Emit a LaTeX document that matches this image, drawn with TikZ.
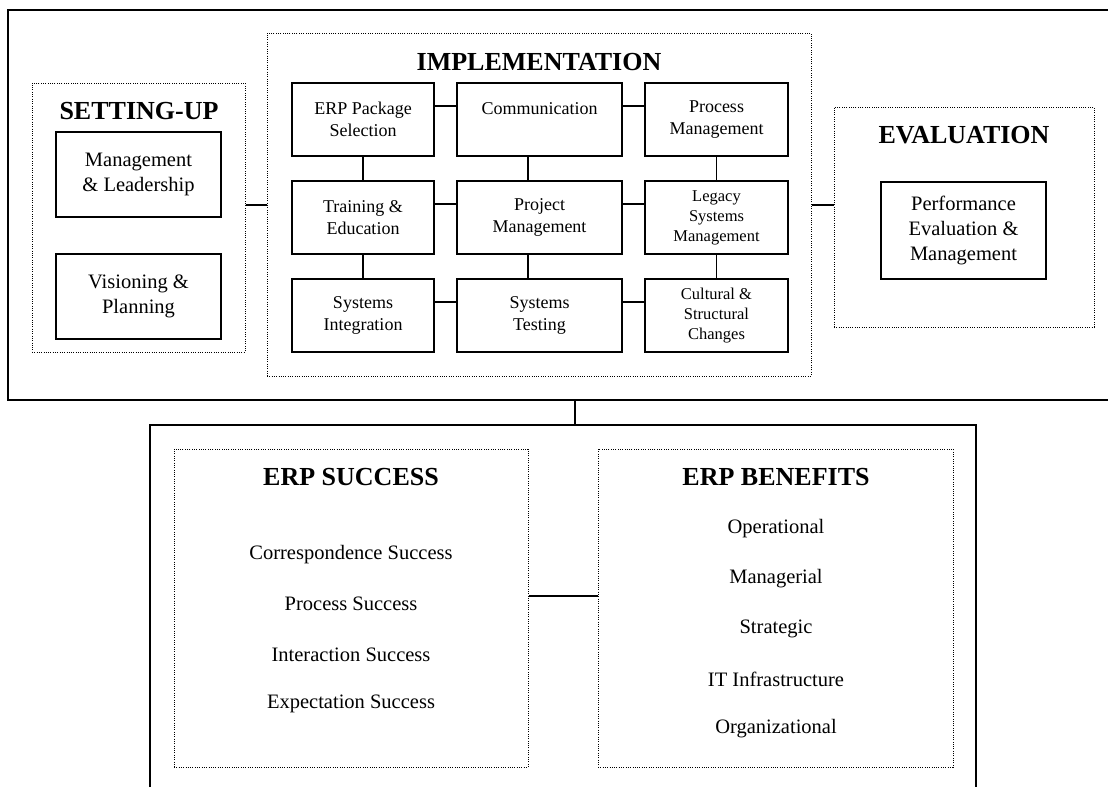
\documentclass[tikz,border=0pt]{standalone}
\usepackage{fontspec}
\setmainfont{Liberation Serif}
\usepackage{tikz}
\usetikzlibrary{positioning}
\tikzstyle{cell} = [draw, line width=1.8pt, align=center, minimum height=73pt, inner sep=1pt, font=\fontsize{18}{21.7}\selectfont]
\tikzstyle{cellsmall} = [cell, font=\fontsize{16.5}{20}\selectfont]
\tikzstyle{bigcell} = [draw, line width=1.8pt, align=center, minimum width=165pt, inner sep=1pt, font=\fontsize{20.5}{25}\selectfont]
\tikzstyle{frame} = [draw, line width=1pt, dash pattern=on 1pt off 1.3pt, inner sep=0pt]
\tikzstyle{heading} = [font=\fontsize{26}{30}\selectfont\bfseries]
\tikzstyle{item} = [font=\fontsize{20.5}{25}\selectfont]
\tikzstyle{link} = [line width=1.8pt]

\begin{document}
\begin{tikzpicture}[x=1pt, y=-1pt]
\useasboundingbox (0,0) rectangle (1108,787);

% outer boxes
\draw[link] (1108,10) -| (8,400) -- (1108,400);
\draw[link] (150,787) |- (976,425) -- (976,787);
\coordinate (topout) at (575,400);
\coordinate (botout) at (575,425);

% setting-up
\node[frame, minimum width=213pt, minimum height=269pt] (setup) at (138.5,217.5) {};
\node[heading] (setuptitle) at (139,111) {SETTING-UP};
\node[bigcell, minimum height=85pt] (lead) at (138.5,174.5) {Management\\ \& Leadership};
\node[bigcell, minimum height=85pt] (vision) at (138.5,296.5) {Visioning \&\\ Planning};

% implementation
\node[frame, minimum width=544pt, minimum height=343pt] (impl) at (539,204.5) {};
\node[heading] (impltitle) at (539,62) {IMPLEMENTATION};
\node[cell, minimum width=142pt] (pack) at (363,119.5) {ERP Package\\ Selection};
\node[cell, minimum width=165pt] (comm) at (539.5,119.5) {Communication\\ \mbox{}};
\node[cell, minimum width=143pt] (proc) at (716.5,119.5) {Process\\ Management};
\node[cell, minimum width=142pt] (train) at (363,217.5) {Training \&\\ Education};
\node[cell, minimum width=165pt] (proj) at (539.5,217.5) {Project\\ Management};
\node[cellsmall, minimum width=143pt] (legacy) at (716.5,217.5) {Legacy\\ Systems\\ Management};
\node[cell, minimum width=142pt] (integ) at (363,315.5) {Systems\\ Integration};
\node[cell, minimum width=165pt] (test) at (539.5,315.5) {Systems\\ Testing};
\node[cellsmall, minimum width=143pt] (cult) at (716.5,315.5) {Cultural \&\\ Structural\\ Changes};

% evaluation
\node[frame, minimum width=260pt, minimum height=220pt] (eval) at (964,217) {};
\node[heading] (evaltitle) at (964,135) {EVALUATION};
\node[bigcell, minimum height=97pt] (perf) at (963.5,230.5) {Performance\\ Evaluation \&\\ Management};

% success and benefits
\node[frame, minimum width=354pt, minimum height=318pt] (succ) at (351,608) {};
\node[heading] (succtitle) at (351,477) {ERP SUCCESS};
\node[item] (corr) at (351,555) {Correspondence Success};
\node[item] (procs) at (351,604) {Process Success};
\node[item] (inter) at (351,655) {Interaction Success};
\node[item] (expec) at (351,704) {Expectation Success};

\node[frame, minimum width=355pt, minimum height=318pt] (ben) at (775.5,608) {};
\node[heading] (bentitle) at (776,477) {ERP BENEFITS};
\node[item] (oper) at (776,529) {Operational};
\node[item] (mana) at (776,579) {Managerial};
\node[item] (strat) at (776,629) {Strategic};
\node[item] (infra) at (776,679) {IT Infrastructure};
\node[item] (orga) at (776,729) {Organizational};

% connectors
\draw[link] ([yshift=-24pt]pack.north east) -- ([yshift=-24pt]comm.north west);
\draw[link] ([yshift=-24pt]comm.north east) -- ([yshift=-24pt]proc.north west);
\draw[link] ([yshift=-24pt]train.north east) -- ([yshift=-24pt]proj.north west);
\draw[link] ([yshift=-24pt]proj.north east) -- ([yshift=-24pt]legacy.north west);
\draw[link] ([yshift=-24pt]integ.north east) -- ([yshift=-24pt]test.north west);
\draw[link] ([yshift=-24pt]test.north east) -- ([yshift=-24pt]cult.north west);
\draw[link] (pack) -- (train);
\draw[link] (train) -- (integ);
\draw[link] ([xshift=-11.5pt]comm.south) -- ([xshift=-11.5pt]proj.north);
\draw[link] ([xshift=-11.5pt]proj.south) -- ([xshift=-11.5pt]test.north);
\draw[link] (proc) -- (legacy);
\draw[link] (legacy) -- (cult);
\draw[link] ([yshift=12.5pt]setup.east) -- ([yshift=12.5pt]setup.east -| impl.west);
\draw[link] ([yshift=12pt]eval.west) -- ([yshift=12pt]eval.west -| impl.east);
\draw[link] (topout) -- (botout);
\draw[link] ([yshift=12pt]succ.east) -- ([yshift=12pt]succ.east -| ben.west);
\end{tikzpicture}
\end{document}
